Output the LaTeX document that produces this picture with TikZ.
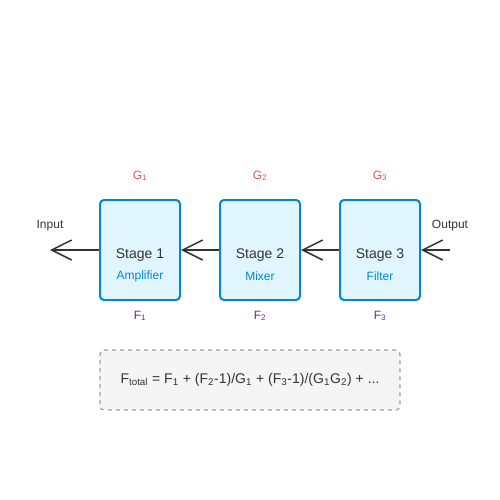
\documentclass[tikz,border=0pt]{standalone}
\usepackage{fontspec}
\setmainfont{Liberation Sans}
\usetikzlibrary{arrows.meta}

\definecolor{boxfill}{HTML}{E1F5FE}
\definecolor{boxline}{HTML}{0288D1}
\definecolor{gaincol}{HTML}{D9534F}
\definecolor{noisecol}{HTML}{7B1FA2}
\definecolor{darktext}{HTML}{333333}
\definecolor{notefill}{HTML}{F5F5F5}
\definecolor{noteline}{HTML}{9E9E9E}

\tikzset{every picture/.style={line width=0.75pt}}
\tikzset{
  stagebox/.style={draw=boxline, fill=boxfill, line width=1.5pt, rounded corners=3pt,
    minimum width=60pt, minimum height=75pt, inner sep=0pt},
  stagetitle/.style={text=darktext, font=\fontsize{10.5pt}{12pt}\selectfont, inner sep=0pt},
  stagesub/.style={text=boxline, font=\fontsize{9pt}{10pt}\selectfont, inner sep=0pt},
  gainlbl/.style={text=gaincol, font=\fontsize{9pt}{10pt}\selectfont, inner sep=0pt},
  noiselbl/.style={text=noisecol, font=\fontsize{9pt}{10pt}\selectfont, inner sep=0pt},
  portlbl/.style={text=darktext, font=\fontsize{9pt}{10pt}\selectfont, inner sep=0pt},
  flow/.style={draw=darktext, line width=1.5pt, -{Straight Barb[length=15pt, width=15pt, line width=1.1pt]}},
}

\begin{document}
\begin{tikzpicture}[x=0.75pt,y=0.75pt,yscale=-1,xscale=1]

\useasboundingbox (0,0) rectangle (500,500);

% stages
\node (s1) [stagebox] at (140,250) {};
\node (s2) [stagebox] at (260,250) {};
\node (s3) [stagebox] at (380,250) {};

\node (s1t) [stagetitle] at (140,255) {Stage 1};
\node (s1s) [stagesub] at (140,276) {Amplifier};
\node (s2t) [stagetitle] at (260,255) {Stage 2};
\node (s2s) [stagesub] at (260,276) {Mixer};
\node (s3t) [stagetitle] at (380,255) {Stage 3};
\node (s3s) [stagesub] at (380,276) {Filter};

% gains and noise figures
\node (g1) [gainlbl] at (140,176) {G\textsubscript{1}};
\node (g2) [gainlbl] at (260,176) {G\textsubscript{2}};
\node (g3) [gainlbl] at (380,176) {G\textsubscript{3}};
\node (f1) [noiselbl] at (140,316) {F\textsubscript{1}};
\node (f2) [noiselbl] at (260,316) {F\textsubscript{2}};
\node (f3) [noiselbl] at (380,316) {F\textsubscript{3}};

% ports
\coordinate (in) at (50,250);
\coordinate (outend) at (450,250);
\node (inlbl) [portlbl] at (50,226) {Input};
\node (outlbl) [portlbl] at (450,226) {Output};

\draw [flow] (s1.west) -- (in);
\draw [flow] (s2.west) -- (s1.east);
\draw [flow] (s3.west) -- (s2.east);
\draw [flow] (outend) -- (s3.east);

% Friis formula
\node (friis) [draw=noteline, fill=notefill, dashed, line width=0.9pt, rounded corners=3pt,
  minimum width=225pt, minimum height=45pt, text=darktext,
  font=\fontsize{10.5pt}{12pt}\selectfont] at (250,380)
  {F\textsubscript{total} = F\textsubscript{1} + (F\textsubscript{2}-1)/G\textsubscript{1} + (F\textsubscript{3}-1)/(G\textsubscript{1}G\textsubscript{2}) + ...};

\end{tikzpicture}
\end{document}
